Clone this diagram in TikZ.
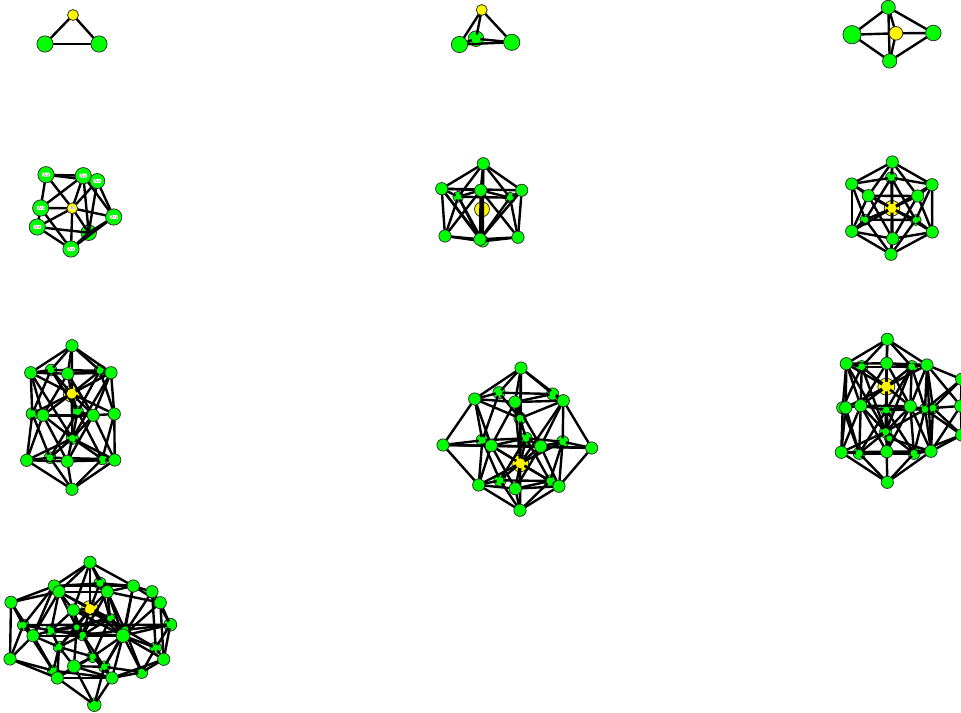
\documentclass[tikz,border=0pt]{standalone}
\usepackage{tikz}
\definecolor{atomgreen}{RGB}{0,255,0}
\definecolor{atomyellow}{RGB}{255,245,0}
\pgfdeclarelayer{behind}
\pgfdeclarelayer{bonds}
\pgfdeclarelayer{cores}
\pgfsetlayers{behind,bonds,cores,main}
\newcommand{\frontatoms}[3]{\foreach \n/\x/\y/\s in {#3} {\node[atom=\s pt, fill=#2] (#1\n) at (\x,\y) {};}}
\newcommand{\backatoms}[3]{\foreach \n/\x/\y/\s in {#3} {
  \begin{pgfonlayer}{behind}\node[atom=\s pt, fill=#2] (#1\n) at (\x,\y) {};\end{pgfonlayer}
  \begin{pgfonlayer}{cores}\node[atomcore=0.62*\s pt, fill=#2] (#1\n core) at (\x,\y) {};\end{pgfonlayer}}}
\newcommand{\tagatoms}[3]{\foreach \n/\x/\y/\s in {#3} {\node[atom=\s pt, fill=#2, label={[atomtag]center:Au}] (#1\n) at (\x,\y) {};}}
\newcommand{\bonds}[2]{\begin{pgfonlayer}{bonds}\foreach \ba/\bl in {#2} {\foreach \bb in \bl {\draw[bond] (#1\ba.center) -- (#1\bb.center);}}\end{pgfonlayer}}
\begin{document}
\begin{tikzpicture}[x=0.75pt, y=-0.75pt,
  atom/.style={circle, draw=black!80, line width=0.6pt, inner sep=0pt, minimum size=#1+0.7pt},
  atomcore/.style={circle, inner sep=0pt, minimum size=#1},
  atomtag/.style={fill=white, rounded corners=0.8pt, inner sep=0.4pt, text=black!60, font=\fontsize{3}{3}\selectfont},
  bond/.style={line width=1.8pt, black}]
\useasboundingbox (0,0) rectangle (961,713);

\frontatoms{a}{atomgreen}{L/45/44/11.5, R/99/44/11.5}
\frontatoms{a}{atomyellow}{Y/73/15/7.5}
\bonds{a}{Y/{L,R}, L/{R}}

\backatoms{b}{atomgreen}{K/476/38.7/11}
\frontatoms{b}{atomgreen}{L/459.5/44.5/11.5, R/511.7/42.3/11.5}
\frontatoms{b}{atomyellow}{Y/481.7/10/7.5}
\bonds{b}{Y/{L,R,K}, L/{R,K}, K/{R}}

\frontatoms{c}{atomgreen}{T/888.3/7.3/9.8, L/852/34.7/13, R/933.3/33/11, B/889.7/61/10}
\frontatoms{c}{atomyellow}{Y/896/33.3/9.5}
\bonds{c}{T/{L,R,B,Y}, B/{L,R,Y}, Y/{L,R}}

\begin{pgfonlayer}{behind}\node[atom=11pt, fill=atomgreen] (dE) at (88.7,232.7) {};\end{pgfonlayer}
\tagatoms{d}{atomgreen}{A/46/174.7/11.5, B/83.3/175.7/11.5, C/97.3/181/10.5, D/113.7/217/11.5, F/71/249/11.5, H/37.3/227/11.5, G/40.7/208/11.5}
\node[atom=7.5pt, fill=atomyellow, label={[atomtag]center:K}] (dY) at (72.3,208.3) {};
\bonds{d}{A/{B,C,G,Y}, B/{C,G,Y,D,E}, C/{Y,D,E}, G/{Y,H,F}, H/{F,E,Y}, Y/{F,E,D}, D/{E,F}, E/{F}}

\backatoms{e}{atomgreen}{a/458.3/196.7/7.5, b/510/197.7/7.5, o/482.7/241.3/8}
\frontatoms{e}{atomgreen}{T/483.3/163.7/8.5, L/441.7/188.7/8.5, R/521.7/190.3/8.5, f/480.7/190.3/8.5, p/445/236/8.5, q/518/237.3/8.5, s/480/239.3/8.5}
\begin{pgfonlayer}{behind}\node[atom=10.5pt, fill=atomyellow] (eY) at (482,209.3) {};\end{pgfonlayer}
\bonds{e}{T/{L,R,f,a,b,Y,o}, L/{R,f,a,p,s,o}, R/{b,q,s,f}, f/{a,b,p,q,s,Y}, a/{b,p,s,o}, b/{q,s}, p/{s,o}, q/{s,o}, s/{Y,o}, Y/{o}}

\backatoms{f}{atomgreen}{t/891.3/177.7/8, c/865.3/219.7/7.5, d/915.7/220/7.5}
\backatoms{f}{atomyellow}{Y/892/208.3/11}
\frontatoms{f}{atomgreen}{T/892.3/162/8.5, UL/851.7/184/8.5, UR/932/184.7/8.5, a/868.3/195.7/8.5, b/917.7/196/8.5, LL/851.7/231.3/8.5, LR/932.3/232/8.5, e/892.7/238.7/8.5, B/891/254.3/8.5}
\bonds{f}{T/{t,UL,UR,a,b}, B/{e,LL,LR,c,d}, t/{UL,UR,c,d}, e/{LL,LR,a,b}, a/{UL,LL,b}, b/{UR,LR}, c/{LL,UL,d}, d/{LR,UR}, UL/{LL}, UR/{LR}, Y/{T,B,t,e,UL,UR,LL,LR,a,b,c,d}}

\backatoms{g}{atomgreen}{ul/51/370/8, ur/100/370.7/8, a/32.3/413.7/8.5, c/77.7/411.7/8, m/72.3/438.3/8.5, ll/50/457.7/8, lr/102.3/459/8}
\backatoms{g}{atomyellow}{Y/71.7/393.7/12}
\frontatoms{g}{atomgreen}{T/72/345.7/8.5, UL/30.7/372.7/8.5, uf/67.7/373.7/8.5, UR/111/372.7/8.5, b/43/415.3/8.5, d/93.3/415.3/8.5, e/114.3/414/8.5, LL/26.7/460.3/8.5, lf/67.3/461.3/8.5, LR/114.7/460/8.5, B/72/489.3/8.5}
\bonds{g}{T/{UL,ul,uf,ur,UR,Y}, UL/{ul,uf,a,b,Y,m}, ul/{ur,a,c,Y}, uf/{UR,ur,b,d,Y}, ur/{UR,c,e,Y}, UR/{d,e,Y,m}, a/{b,LL,ll,Y}, b/{d,LL,lf,Y,m}, c/{d,ll,lr,Y,m}, d/{e,lf,LR,m,Y}, e/{LR,lr,Y}, m/{Y,LL,ll,lf,lr,LR}, LL/{ll,lf,B}, ll/{lr,B}, lf/{LR,lr,B}, lr/{LR,B}, LR/{B}}

\backatoms{h}{atomgreen}{ub/499/392.7/8.5, ur/552.7/394/8.5, c/520/418.3/8.5, ml/482.3/440.3/8.5, mb/526/438.3/8.5, mR/562.7/441.7/8.5, lb/500/480.3/8.5, lr/550/481/8.5}
\backatoms{h}{atomyellow}{Y/520.3/463.3/12}
\frontatoms{h}{atomgreen}{T/521/368/8.5, UL/474.7/399/8.5, uf/515/402/8.5, UR/563.3/400.7/8.5, L/443/445/8.5, mf/491.3/445.7/8.5, mr/540.7/446.3/8.5, R/591.7/448/8.5, LL/478.7/485/8.5, lf/515.3/488.7/8.5, LR/559/486.3/8.5, B/520/510.3/8.5}
\bonds{h}{T/{UL,ub,uf,ur,UR,c,Y}, UL/{ub,uf,L,ml,mf,c}, UR/{uf,ur,R,mR,mr,c,Y}, ub/{ur,ml,c}, uf/{ur,mf,c,mr,Y}, L/{ml,mf,LL,R}, R/{mR,mr,LR}, ml/{mf,mb,LL,lb,Y}, mf/{mb,mr,LL,lf,Y}, mr/{mR,mb,LR,lf,Y}, mb/{mR,c,lb,lr,Y}, mR/{LR,lr,Y}, LL/{lb,lf,Y,B}, LR/{lr,lf,B,Y}, lb/{lr,B,Y}, lf/{lr,B,Y}, lr/{B,Y}, c/{Y}, B/{Y}}

\backatoms{i}{atomgreen}{ub/861.7/366.7/8.5, ur/911.7/366.7/8.5, a/842.7/407.7/8.5, d/886.3/410/8, g/925/409.3/8, h/933/408/8, m/885.7/431.7/8.5, n/889.3/438.3/7, lb/859.3/453.3/8.5, lr/914/453.3/8.5}
\backatoms{i}{atomyellow}{Y/886.3/386.7/12}
\frontatoms{i}{atomgreen}{T/887.3/339.3/8.5, UL/846.3/363.7/8.5, uf/886.7/363.3/8.5, UR/927/365/8.5, e/961.7/379.3/8.5, b/845.7/407.7/8.5, c/860.7/405.7/8.5, f/910.3/406.3/8.5, k/960.7/406/8.5, o/961.7/435/8.5, LL/841.3/452.3/8.5, lf/886.7/451.7/8.5, LR/931/451.3/8.5, B/887.3/482.3/8.5}
\bonds{i}{T/{UL,ub,uf,ur,UR,Y}, UL/{uf,ub,a,b,c,m,Y}, ub/{ur,c,m,a,Y}, uf/{UR,ur,c,f,Y,m}, ur/{UR,d,f,g,m,Y}, UR/{e,f,g,h,LR,k,Y}, e/{h,g,k,o}, a/{b,LL,lb}, b/{c,LL,lb,Y}, c/{d,f,LL,lf,lb,Y,m}, d/{f,g,m,n,lb,lr,Y}, f/{g,LR,lf,lr,Y,m}, g/{h,LR,lr,m,o}, h/{k,o,LR}, k/{o,LR}, o/{LR,lr}, LL/{lb,lf,B,m}, lb/{lf,lr,B,m}, lf/{lr,LR,B,n,Y}, lr/{LR,B,m}, LR/{B,n}}

\backatoms{j}{atomgreen}{c/100/583.3/8.5, k/170.3/624.7/9, l/23.3/625/8, o/51/630.7/8, p/82.7/635/8, q/76.7/627.3/7, r/110/618.3/7, s/125/630/8.5, v/59/647/8, w/155.7/647.7/8, aa/92.7/656.7/8, ac/104.3/666.7/8, ad/141.7/672.3/8.5, ae/53.3/670.7/8, B/94.3/704.7/9.5}
\backatoms{j}{atomyellow}{Y/90/609/12}
\frontatoms{j}{atomgreen}{t/90/562.3/8.5, a/54.3/586/8.5, b/59/591.7/8.5, d/107.3/591.7/8.5, e/133.3/586/8.5, g/152/591.7/8.5, h/160.3/602.7/8.5, i/11/602.3/8.5, j/73.3/610/8.5, m/33/635.7/8.5, u/123/635.7/9.5, x/10/659/8.5, z/163.7/659.3/8.5, ab/74/666.3/9, af/57.3/678/8.5, ag/112/678/8.5}
\bonds{j}{t/{a,b,c,d,e,j,Y}, a/{i,b,c,e,m,l}, b/{i,d,j,m,o,q,Y,r}, c/{d,e,r,Y}, d/{e,h,r,s,u,Y,p}, e/{g,h,u,s}, g/{h,k,w,u}, h/{k,u,z}, i/{l,m,x}, j/{Y,o,q,p,r,u}, k/{u,s,w,z,l}, l/{m,x,o,ae}, m/{o,x,v,ae,af,u}, o/{q,p,u,v,r}, p/{q,s,u,aa,ac,v,Y,r}, q/{v,ab,Y,r}, r/{s,u,aa,Y}, s/{u,w,ad,ac,Y}, u/{w,z,ad,ag,ac,aa,Y}, v/{ae,af,ab,aa,Y}, w/{z,ad}, x/{ae,af}, z/{ad,ag}, aa/{ab,ac,ag,af}, ab/{af,ag,ac,B}, ac/{ag,ad,B}, ad/{ag}, ae/{af,ag}, af/{ag,B}, ag/{B}}
\end{tikzpicture}
\end{document}
